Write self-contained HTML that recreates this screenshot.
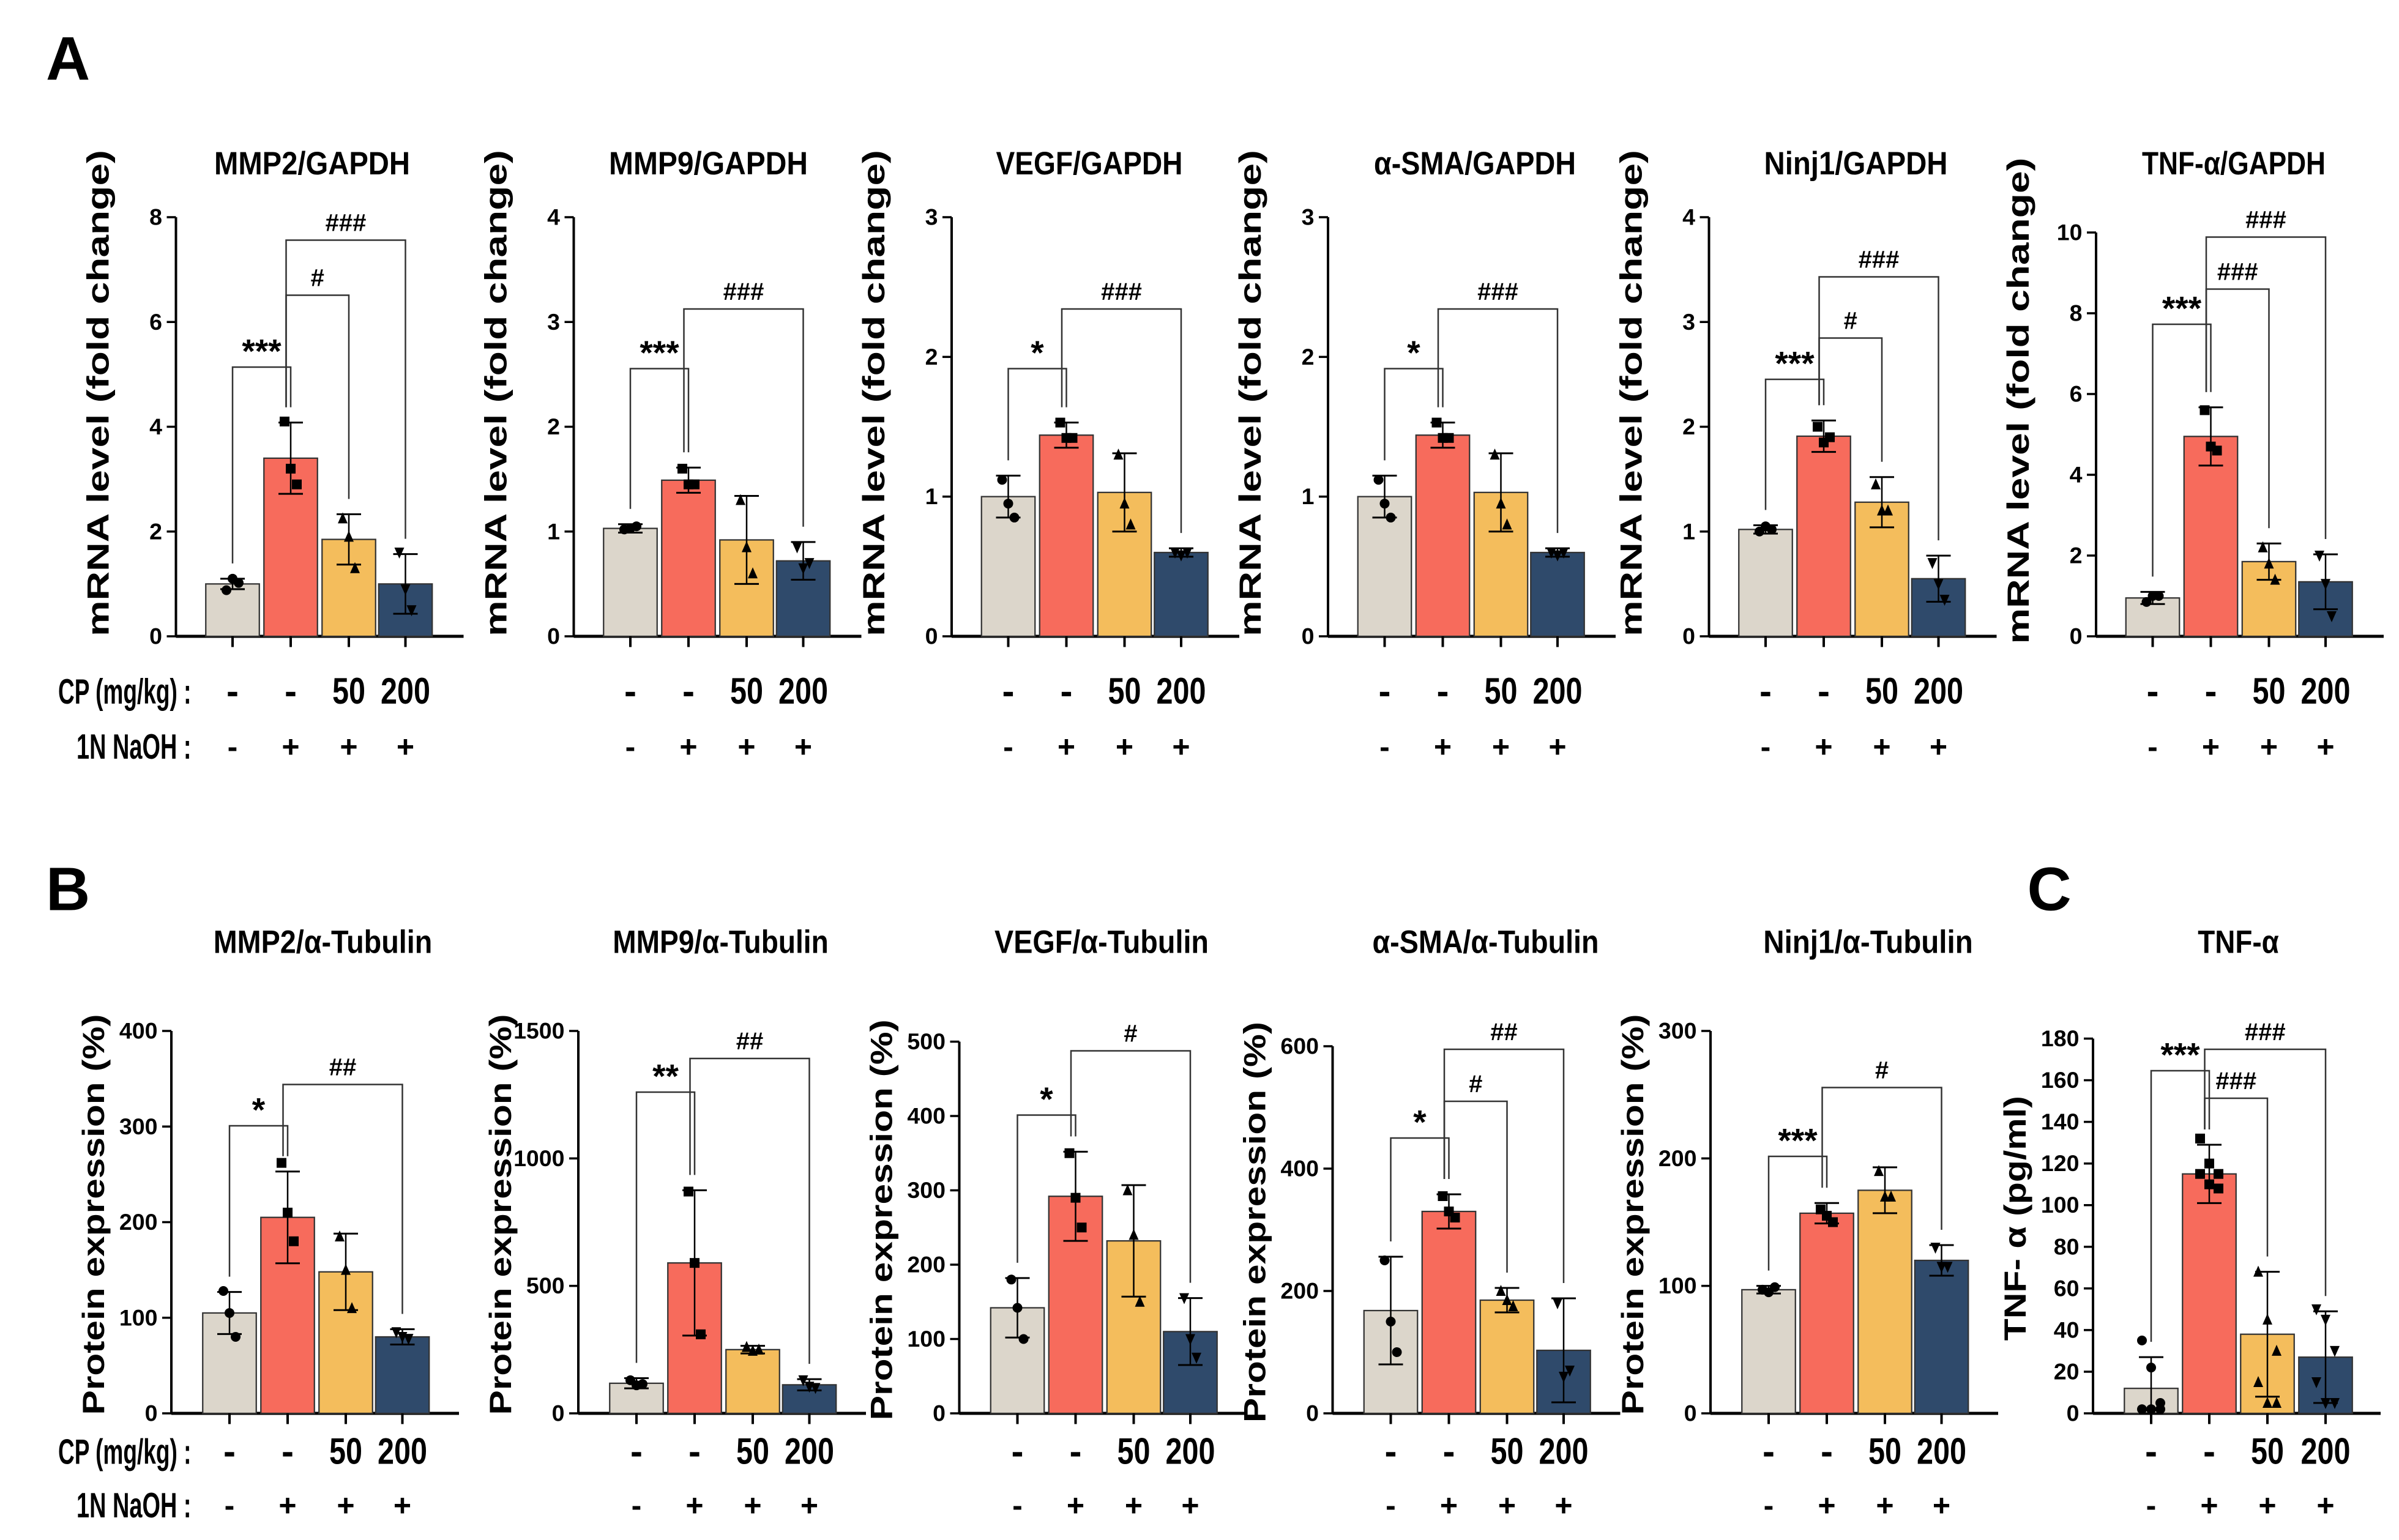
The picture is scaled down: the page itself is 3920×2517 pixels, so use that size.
<!DOCTYPE html>
<html><head><meta charset="utf-8"><style>
html,body{margin:0;padding:0;background:#fff}
svg{display:block}
text{font-family:"Liberation Sans",Arial,sans-serif;font-weight:bold;fill:#000}
</style></head><body>
<svg id="fig" width="3920" height="2517" viewBox="0 0 1568 1006.8" xmlns="http://www.w3.org/2000/svg">
<text x="30" y="52" font-size="40">A</text>
<text x="30" y="595" font-size="40">B</text>
<text x="1325" y="595" font-size="40">C</text>
</svg>
<script>
// ---- data ----
const titlesA = ["MMP2/GAPDH","MMP9/GAPDH","VEGF/GAPDH","α-SMA/GAPDH","Ninj1/GAPDH","TNF-α/GAPDH"];
const maxA = [8,4,3,3,4,10];
const stepA = [2,1,1,1,1,2];
const meansA = [[1.0,3.4,1.85,1.0],[1.03,1.49,0.92,0.72],[1.0,1.44,1.03,0.6],[1.0,1.44,1.03,0.6],[1.02,1.91,1.28,0.55],[0.95,4.95,1.85,1.35]];
const errsA = [[0.1,0.68,0.48,0.57],[0.04,0.12,0.42,0.18],[0.15,0.09,0.28,0.03],[0.15,0.09,0.28,0.03],[0.04,0.15,0.24,0.22],[0.15,0.72,0.45,0.68]];
const pointsA = [
 [[0.88,1.1,1.02],[4.1,3.2,2.9],[2.25,1.9,1.3],[1.6,0.9,0.5]],
 [[1.02,1.03,1.05],[1.6,1.45,1.45],[1.3,0.85,0.6],[0.85,0.65,0.7]],
 [[1.12,0.95,0.85],[1.53,1.42,1.42],[1.3,0.95,0.8],[0.6,0.58,0.6]],
 [[1.12,0.95,0.85],[1.53,1.42,1.42],[1.3,0.95,0.8],[0.6,0.58,0.6]],
 [[1.0,1.05,1.02],[2.0,1.85,1.9],[1.45,1.2,1.2],[0.7,0.5,0.35]],
 [[0.85,1.0,1.0],[5.6,4.7,4.6],[2.2,1.8,1.4],[2.0,1.3,0.5]]];
const sigA = [
 [[0,1,240,"***"],[1,2,193,"#"],[1,3,157,"###"]],
 [[0,1,241,"***"],[1,3,202,"###"]],
 [[0,1,241,"*"],[1,3,202,"###"]],
 [[0,1,241,"*"],[1,3,202,"###"]],
 [[0,1,248,"***"],[1,2,221,"#"],[1,3,181,"###"]],
 [[0,1,212,"***"],[1,2,189,"###"],[1,3,155,"###"]]];

const titlesB = ["MMP2/α-Tubulin","MMP9/α-Tubulin","VEGF/α-Tubulin","α-SMA/α-Tubulin","Ninj1/α-Tubulin","TNF-α"];
const maxB = [400,1500,500,600,300,180];
const stepB = [100,500,100,200,100,20];
const meansB = [[105,205,148,80],[118,590,250,112],[142,292,232,110],[168,330,185,103],[97,157,175,120],[12,115,38,27]];
const errsB = [[22,48,40,8],[20,285,15,22],[40,60,75,45],[88,28,20,85],[3,8,18,12],[15,14,30,22]];
const pointsB = [
 [[128,105,80],[262,210,180],[185,150,110],[85,80,78]],
 [[130,110,115],[870,590,310],[260,245,250],[130,105,100]],
 [[180,142,100],[350,290,250],[300,240,150],[155,100,75]],
 [[250,150,100],[355,330,320],[200,185,175],[180,60,70]],
 [[97,95,99],[160,155,150],[190,170,170],[130,115,115]],
 [[35,22,5,2,2,2],[132,120,115,115,110,108],[68,45,30,15,5,5],[50,45,30,15,5,5]]];
const sigB = [
 [[0,1,736,"*"],[1,3,709,"##"]],
 [[0,1,714,"**"],[1,3,692,"##"]],
 [[0,1,729,"*"],[1,3,687,"#"]],
 [[0,1,744,"*"],[1,2,720,"#"],[1,3,686,"##"]],
 [[0,1,756,"***"],[1,3,711,"#"]],
 [[0,1,700,"***"],[1,2,718,"###"],[1,3,686,"###"]]];
const cpLabels = ["-","-","50","200"];
const naohLabels = ["-","+","+","+"];

// ---- drawing ----
const NS="http://www.w3.org/2000/svg";
const svg=document.getElementById('fig');
const colors=["#dcd6cb","#f76b5c","#f4bd5c","#2f4a6b"];
const markers=["circle","square","tri","itri"];
function mk(tag,attrs,parent){const e=document.createElementNS(NS,tag);for(const k in attrs)e.setAttribute(k,attrs[k]);(parent||svg).appendChild(e);return e;}
function txt(x,y,s,size,anchor,parent){const t=mk('text',{x:x,y:y,'font-size':size,'text-anchor':anchor||'middle'},parent);t.textContent=s;return t;}
function marker(type,x,y,g){
  const r=3.2;let e;
  if(type==="circle") e=mk('circle',{cx:x,cy:y,r:r},g);
  else if(type==="square") e=mk('rect',{x:x-r,y:y-r,width:2*r,height:2*r},g);
  else if(type==="tri") e=mk('polygon',{points:`${x},${y-r-0.8} ${x-r},${y+r} ${x+r},${y+r}`},g);
  else e=mk('polygon',{points:`${x},${y+r+0.8} ${x-r},${y-r} ${x+r},${y-r}`},g);
  e.setAttribute('fill','#000');
  
  
}
function panel(o){
  const g=mk('g',{});
  
  
  const ys=v=>o.y0-(v/o.max)*(o.y0-o.yTop);
  const xs=i=>o.ax+o.offs[i];
  const t=txt(o.tx,o.titleY,o.title,21,'middle',g);
  t.setAttribute('textLength',o.tLen);
  t.setAttribute('lengthAdjust','spacingAndGlyphs');
  
  
  mk('line',{x1:o.ax,y1:o.yTop,x2:o.ax,y2:o.y0,stroke:'#000','stroke-width':1.6},g);
  mk('line',{x1:o.ax,y1:o.y0,x2:o.ax+188,y2:o.y0,stroke:'#000','stroke-width':2},g);
  for(let v=0;v<=o.max+1e-9;v+=o.step){
    const y=ys(v);
    mk('line',{x1:o.ax-6,y1:y,x2:o.ax,y2:y,stroke:'#000','stroke-width':1.4},g);
    const tl=txt(o.ax-9,y+5,String(v),15,'end',g);
    
    
  }
  const yt=mk('text',{x:0,y:0,'font-size':20,'text-anchor':'middle',textLength:o.ytLen,lengthAdjust:'spacingAndGlyphs',transform:`translate(${o.ax-44},${(o.yTop+o.y0)/2+o.ytShift}) rotate(-90)`},g);
  yt.textContent=o.ytitle;
  
  
  for(let i=0;i<4;i++){
    const x=xs(i),m=o.means[i],e=o.errs[i];
    const b=mk('rect',{x:x-17.5,y:ys(m),width:35,height:o.y0-ys(m),fill:colors[i],stroke:'#333','stroke-width':0.9},g);
    
    
    mk('line',{x1:x,y1:ys(m+e),x2:x,y2:ys(Math.max(0,m-e)),stroke:'#000','stroke-width':1},g);
    mk('line',{x1:x-8,y1:ys(m+e),x2:x+8,y2:ys(m+e),stroke:'#000','stroke-width':1.2},g);
    mk('line',{x1:x-8,y1:ys(Math.max(0,m-e)),x2:x+8,y2:ys(Math.max(0,m-e)),stroke:'#000','stroke-width':1.2},g);
    const pts=o.points[i],n=pts.length;
    pts.forEach((p,k)=>{marker(markers[i],x+(n>3?(k%3-1)*6:(k-1)*4),ys(p),g);});
    mk('line',{x1:x,y1:o.y0,x2:x,y2:o.y0+7,stroke:'#000','stroke-width':1.6},g);
    const c=mk('text',{x:x,y:o.cpY,'font-size':24,'text-anchor':'middle'},g);
    c.textContent=cpLabels[i];
    if(cpLabels[i].length>1){c.setAttribute('textLength',cpLabels[i].length*10.8);c.setAttribute('lengthAdjust','spacingAndGlyphs');}
    
    
    const n2=txt(x,o.nY,naohLabels[i],20,'middle',g);
    
    
  }
  o.sig.forEach(s=>{
    const [a,b,y,lab]=s;
    const xa=xs(a), xb=xs(b);
    const ya=ys(o.means[a]+o.errs[a])-10, yb=ys(o.means[b]+o.errs[b])-10;
    const xaa=a===1?xa-3:xa;
    mk('polyline',{points:`${xaa},${Math.max(ya,y+8)} ${xaa},${y} ${xb},${y} ${xb},${Math.max(yb,y+8)}`,fill:'none',stroke:'#333','stroke-width':1},g);
    const st=txt((xaa+xb)/2,y-6,lab,lab.includes('*')?22:16,'middle',g);
    if(lab.includes('*')) st.setAttribute('y',y-3);
    
    
  });
}
const axA=[115,375,622,868,1117,1370];
const tLenA=[128,130,122,132,120,120];
const tXA=[204,463,712,964,1213,1460];
for(let i=0;i<6;i++){
  panel({name:'panel-a-'+(i+1),ax:axA[i],offs:[37,75,113,150],y0:416,yTop:i===5?152:142,max:maxA[i],step:stepA[i],
    title:titlesA[i],titleY:114,tx:tXA[i],tLen:tLenA[i],ytitle:'mRNA level (fold change)',ytLen:318,ytShift:-22,cpY:460,nY:495,
    means:meansA[i],errs:errsA[i],points:pointsA[i],sig:sigA[i]});
}
const axB=[112,378,627,871,1118,1368];
const topB=[674,674,681,684,674,679];
const tLenB=[143,141,140,148,137,53];
const tXB=[211,471,720,971,1221,1463];
for(let i=0;i<6;i++){
  panel({name:i<5?'panel-b-'+(i+1):'panel-c',ax:axB[i],offs:i<5?[38,76,114,151]:[38,76,114,152],y0:924,yTop:topB[i],max:maxB[i],step:stepB[i],
    title:titlesB[i],titleY:623,tx:tXB[i],tLen:tLenB[i],ytitle:i<5?'Protein  expression (%)':'TNF- α (pg/ml)',ytLen:i<5?262:160,ytShift:-5,cpY:957,nY:991,
    means:meansB[i],errs:errsB[i],points:pointsB[i],sig:sigB[i]});
}
[[460,'CP (mg/kg) :',38],[496,'1N NaOH :',50],[957,'CP (mg/kg) :',38],[992,'1N NaOH :',50]].forEach(r=>{
  const t=mk('text',{x:r[2],y:r[0],'font-size':23,'text-anchor':'start',textLength:125-r[2],lengthAdjust:'spacingAndGlyphs'});
  t.textContent=r[1];
  
  
});
</script>
</body></html>
